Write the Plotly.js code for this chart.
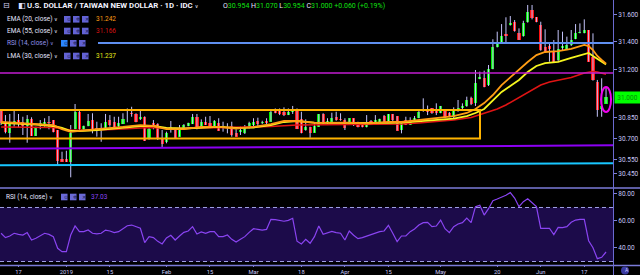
<!DOCTYPE html>
<html><head><meta charset="utf-8">
<script src="https://cdn.plot.ly/plotly-3.0.1.min.js"></script>
<style>html,body{margin:0;padding:0;background:#000;overflow:hidden}#chart{width:640px;height:275px}</style>
</head><body><div id="chart"></div>
<script>
// ---------- DATA (daily USD/TWD, IDC) ----------
const startDate = '2018-12-11'; // first weekday shown; one bar per weekday
const open = [
30.903,30.823,30.739,30.816,30.835,30.819,30.792,30.840,30.722,30.801,
30.794,30.823,30.835,30.763,30.551,30.551,30.534,30.768,30.895,30.768,
30.792,30.835,30.775,30.770,30.775,30.835,30.823,30.792,30.806,30.868,
30.881,30.879,30.840,30.859,30.696,30.812,30.804,30.698,30.674,30.773,
30.775,30.715,30.775,30.792,30.806,30.859,30.775,30.823,30.816,30.792,
30.812,30.785,30.785,30.792,30.744,30.751,30.744,30.775,30.799,30.828,
30.812,30.828,30.823,30.913,30.903,30.895,30.871,30.893,30.908,30.840,
30.763,30.787,30.744,30.787,30.879,30.821,30.823,30.859,30.845,30.835,
30.799,30.848,30.816,30.812,30.787,30.830,30.816,30.821,30.864,30.821,
30.879,30.864,30.763,30.835,30.799,30.823,30.848,30.900,30.900,30.919,
30.913,30.884,30.908,30.888,30.855,30.903,30.919,30.937,30.997,30.956,
31.130,31.137,31.088,31.202,31.365,31.394,31.455,31.522,31.546,31.467,
31.443,31.546,31.631,31.578,31.522,31.365,31.370,31.329,31.269,31.358,
31.346,31.378,31.419,31.462,31.467,31.486,31.293,31.113,30.915,30.954];
const high = [
30.913,30.871,30.879,30.903,30.879,30.859,30.871,30.855,30.787,30.835,
30.848,30.864,30.835,30.763,30.606,30.613,30.799,30.951,30.908,30.795,
30.879,30.884,30.823,30.812,30.879,30.871,30.859,30.859,30.884,30.919,
30.931,30.884,30.913,30.862,30.780,30.835,30.812,30.763,30.751,30.828,
30.775,30.799,30.806,30.816,30.879,30.879,30.840,30.859,30.864,30.835,
30.848,30.823,30.812,30.823,30.768,30.787,30.799,30.823,30.848,30.852,
30.830,30.848,30.913,30.919,30.919,30.927,30.919,30.937,30.919,30.895,
30.840,30.787,30.812,30.879,30.884,30.848,30.888,30.895,30.884,30.848,
30.848,30.848,30.823,30.812,30.871,30.835,30.871,30.845,30.871,30.879,
30.879,30.864,30.823,30.859,30.855,30.864,30.900,30.992,30.940,30.922,
30.956,30.937,30.908,30.893,30.927,30.980,30.956,31.004,31.004,31.197,
31.185,31.192,31.233,31.419,31.474,31.529,31.578,31.587,31.558,31.498,
31.553,31.667,31.667,31.580,31.546,31.491,31.390,31.414,31.486,31.474,
31.438,31.486,31.529,31.534,31.563,31.486,31.462,31.125,31.137,31.070];
const low = [
30.799,30.739,30.671,30.787,30.782,30.727,30.671,30.720,30.720,30.768,
30.787,30.768,30.746,30.503,30.534,30.532,30.421,30.768,30.763,30.765,
30.790,30.739,30.715,30.678,30.775,30.787,30.763,30.770,30.806,30.819,
30.859,30.819,30.835,30.684,30.693,30.768,30.691,30.635,30.667,30.744,
30.700,30.715,30.775,30.790,30.806,30.768,30.775,30.799,30.790,30.787,
30.758,30.751,30.739,30.715,30.715,30.727,30.734,30.775,30.792,30.792,
30.806,30.804,30.823,30.884,30.871,30.864,30.871,30.879,30.770,30.739,
30.758,30.707,30.744,30.787,30.799,30.799,30.823,30.830,30.830,30.763,
30.799,30.792,30.782,30.782,30.782,30.806,30.806,30.819,30.816,30.821,
30.823,30.758,30.739,30.799,30.799,30.823,30.848,30.895,30.871,30.880,
30.871,30.884,30.848,30.855,30.848,30.895,30.912,30.931,30.943,30.937,
31.130,31.072,31.081,31.202,31.360,31.390,31.390,31.518,31.474,31.414,
31.438,31.539,31.563,31.542,31.336,31.329,31.257,31.250,31.257,31.341,
31.341,31.370,31.419,31.462,31.462,31.257,31.120,30.859,30.859,30.954];
const close = [
30.812,30.751,30.812,30.828,30.806,30.794,30.840,30.722,30.782,30.812,
30.819,30.812,30.749,30.541,30.534,30.534,30.739,30.895,30.768,30.792,
30.828,30.768,30.763,30.772,30.823,30.799,30.780,30.816,30.843,30.873,
30.877,30.823,30.859,30.686,30.770,30.801,30.696,30.662,30.744,30.782,
30.707,30.763,30.799,30.812,30.859,30.775,30.823,30.799,30.792,30.830,
30.758,30.792,30.775,30.727,30.715,30.763,30.775,30.812,30.823,30.804,
30.823,30.812,30.895,30.888,30.879,30.871,30.895,30.903,30.770,30.744,
30.787,30.739,30.792,30.879,30.812,30.830,30.848,30.835,30.835,30.775,
30.848,30.799,30.787,30.787,30.816,30.812,30.835,30.840,30.816,30.879,
30.835,30.758,30.816,30.799,30.830,30.848,30.895,30.903,30.895,30.884,
30.884,30.937,30.859,30.859,30.908,30.919,30.937,30.980,30.949,31.101,
31.144,31.072,31.202,31.365,31.390,31.443,31.443,31.534,31.481,31.414,
31.534,31.618,31.570,31.546,31.341,31.329,31.346,31.257,31.346,31.370,
31.378,31.414,31.462,31.474,31.486,31.257,31.125,30.910,30.937,31.000];
const rsi = [
50.9,47.7,48.9,50.9,50.1,49.6,51.4,45.9,47.2,48.9,
50.9,50.1,48.4,39.8,37.3,37.3,49.6,56.3,52.1,52.1,
53.3,50.9,50.4,50.9,53.3,52.6,51.4,52.1,54.1,56.5,
57.0,55.8,54.6,44.0,48.4,47.7,44.9,43.0,47.4,49.4,
45.9,48.9,51.6,52.6,55.8,50.4,51.9,50.9,52.1,52.1,
48.4,48.4,49.6,46.4,44.4,46.4,48.4,51.6,54.3,53.8,
53.3,53.8,61.2,61.0,60.5,59.8,60.5,62.0,45.0,43.0,
46.4,43.5,48.4,56.3,50.1,51.1,52.3,51.4,50.9,45.9,
52.6,49.4,46.9,47.7,48.9,49.9,51.4,52.1,52.6,56.8,
50.9,44.7,48.9,48.9,52.1,54.1,57.0,58.8,59.0,55.8,
56.3,60.7,54.3,51.4,55.8,57.8,58.8,62.2,58.8,70.6,
71.6,64.4,69.1,75.1,76.3,77.5,79.0,81.0,77.0,70.6,
74.3,76.5,73.6,70.6,54.6,54.6,54.6,49.9,55.3,55.1,
55.8,59.0,60.7,61.2,61.2,45.4,40.2,32.1,33.1,37.03];
// indicator lines (bar number -> value)
const ema20At = [0,8,12,14,16,18,22,28,32,35,38,42,46,50,54,58,62,65,68,72,76,80,84,89,92,96,100,104,107,109,111,113,115,117,119,121,123,125,128,131,134,135,136,137,138,139];
const ema20 = [30.821,30.806,30.799,30.770,30.749,30.756,30.770,30.785,30.799,30.792,30.770,30.770,30.785,30.785,30.774,30.785,30.806,30.828,30.828,30.814,30.817,30.817,30.810,30.821,30.821,30.835,30.850,30.864,30.886,30.915,30.958,31.016,31.088,31.146,31.197,31.255,31.305,31.327,31.334,31.349,31.378,31.370,31.341,31.298,31.269,31.242];
const lmaAt = ema20At;
const lma = [30.814,30.803,30.792,30.778,30.756,30.756,30.763,30.778,30.792,30.792,30.778,30.774,30.781,30.785,30.778,30.781,30.799,30.821,30.828,30.817,30.814,30.814,30.810,30.814,30.817,30.828,30.835,30.846,30.864,30.886,30.915,30.973,31.038,31.081,31.125,31.182,31.226,31.247,31.255,31.284,31.313,31.320,31.298,31.276,31.255,31.237];
const ema55At = [0,12,16,20,28,34,40,46,54,62,68,76,84,92,96,100,104,108,110,112,114,116,118,120,122,124,126,128,131,134,136,137,139];
const ema55 = [30.785,30.781,30.763,30.759,30.770,30.781,30.774,30.778,30.778,30.788,30.799,30.803,30.806,30.806,30.814,30.824,30.835,30.853,30.875,30.893,30.915,30.944,30.980,31.016,31.052,31.088,31.110,31.125,31.143,31.175,31.186,31.182,31.166];
// axis labels
const tickDates = ['2018-12-17','2019-01-01','2019-01-15','2019-02-01','2019-02-15','2019-03-01','2019-03-18','2019-04-01','2019-04-15','2019-05-01','2019-05-20','2019-06-03','2019-06-17'];
const tickLabels = ['17','2019','15','Feb','15','Mar','18','Apr','15','May','20','Jun','17'];
const priceTicks = [31.6,31.4,31.2,30.85,30.7,30.55,30.45];
const priceTickText = ['31.600','31.400','31.200','30.850','30.700','30.550','30.450'];
const rsiTicks = [80,60,40];
const rsiTickText = ['80.00','60.00','40.00'];
// drawn levels
const blueLevel = 31.392, magentaLevel = 31.175;
const purpleLine = [30.628, 30.652], cyanLine = [30.508, 30.522];
const boxTop = 30.908, boxBottom = 30.701;
const rsiUpper = 70, rsiLower = 30;

// ---------- BUILD ----------
const dates = [];
{ const d = new Date(startDate + 'T00:00:00Z');
  while (dates.length < close.length) {
    const wd = d.getUTCDay();
    if (wd !== 0 && wd !== 6) dates.push(d.toISOString().slice(0, 10));
    d.setUTCDate(d.getUTCDate() + 1);
  } }
const xs = dates.map((_, k) => k);
const tickvals = tickDates.map(t => dates.indexOf(t));
const last = close.length - 1;

const wx = [], wy = [];
xs.forEach(k => { wx.push(k, k, null); wy.push(low[k], high[k], null); });
const bodyBase = open.map((o, k) => Math.min(o, close[k]));
const bodyH = open.map((o, k) => Math.max(Math.abs(close[k] - o), 0.007));
const bodyCol = open.map((o, k) => close[k] >= o ? '#00f000' : '#ff1010');

const FONT = 'Roboto, "Liberation Sans", sans-serif';
const W = 613, H = 265;
const px = X => X / W, py = Y => (H - Y) / H;

const traces = [
  {type:'scatter', mode:'lines', x:wx, y:wy, line:{color:'#c4c4fa', width:1}, hoverinfo:'skip'},
  {type:'bar', x:xs, y:bodyH, base:bodyBase, width:0.72, marker:{color:bodyCol, line:{width:0}}, hoverinfo:'skip'},
  {type:'scatter', mode:'lines', x:ema55At, y:ema55, line:{color:'#e01414', width:1.6}},
  {type:'scatter', mode:'lines', x:lmaAt, y:lma, line:{color:'#f6f61e', width:1.8}},
  {type:'scatter', mode:'lines', x:ema20At, y:ema20, line:{color:'#ff9d14', width:1.8}},
  {type:'scatter', mode:'lines', x:xs, y:rsi, yaxis:'y2', line:{color:'#8a44f2', width:1.2}}
];

const lav = '#7b7bd9';
const shapes = [
  {type:'rect', xref:'paper', x0:0, x1:1, yref:'y2', y0:rsiLower, y1:rsiUpper, fillcolor:'#1c0b4a', line:{width:0}, layer:'below'},
  {type:'line', xref:'paper', x0:0, x1:1, yref:'y2', y0:rsiUpper, y1:rsiUpper, line:{color:'#a0a0e6', width:1, dash:'4px,3px'}},
  {type:'line', xref:'paper', x0:0, x1:1, yref:'y2', y0:rsiLower, y1:rsiLower, line:{color:'#a0a0e6', width:1, dash:'4px,3px'}},
  // drawings on price pane
  {type:'rect', xref:'paper', x0:-0.02, x1:px(480), yref:'y', y0:boxBottom, y1:boxTop, line:{color:'#ffb300', width:2}, layer:'above'},
  {type:'line', xref:'paper', x0:px(98), x1:1, yref:'y', y0:blueLevel, y1:blueLevel, line:{color:'#5f8ff0', width:2}},
  {type:'line', xref:'paper', x0:0, x1:1, yref:'y', y0:magentaLevel, y1:magentaLevel, line:{color:'#c21cd0', width:1.5}},
  {type:'line', xref:'paper', x0:0, x1:1, yref:'y', y0:purpleLine[0], y1:purpleLine[1], line:{color:'#8c00f4', width:2}},
  {type:'line', xref:'paper', x0:0, x1:1, yref:'y', y0:cyanLine[0], y1:cyanLine[1], line:{color:'#18c6ff', width:2}},
  {type:'circle', xref:'x', yref:'y', x0:last-1.15, x1:last+1.15, y0:30.893, y1:31.074, line:{color:'#f000f0', width:2}},
  // pane frames
  {type:'line', xref:'paper', x0:0, x1:640/W, yref:'paper', y0:py(188), y1:py(188), line:{color:lav, width:1.5}},
  {type:'line', xref:'paper', x0:0, x1:640/W, yref:'paper', y0:py(265.5), y1:py(265.5), line:{color:lav, width:1.5}},
  {type:'line', xref:'paper', x0:px(613.5), x1:px(613.5), yref:'paper', y0:py(276), y1:1, line:{color:'#6a6ad0', width:1}},
  {type:'circle', xref:'paper', x0:px(621), x1:px(629), yref:'paper', y0:py(274.5), y1:py(266.5), fillcolor:'#3a3aa0', line:{width:0}}
];
// legend buttons
function btn(X, Y, col) {
  shapes.push({type:'rect', xref:'paper', yref:'paper', x0:px(X), x1:px(X+6.5), y0:py(Y+3.3), y1:py(Y-3.3), fillcolor:col, line:{width:0}});
}
const rowsY = [19.3, 31, 43.3, 56];
rowsY.forEach((Y, r) => {
  const bx = r === 2 ? [61, 70, 79] : [64, 73, 82];
  bx.forEach((X, j) => btn(X, Y, (r === 2 && j === 0) ? '#2a86ff' : '#6262d4'));
});
[61, 70, 79].forEach(X => btn(X, 197, '#6a6ad8'));

const annotations = [];
function ann(X, Y, text, size, color, extra) {
  annotations.push(Object.assign({xref:'paper', yref:'paper', x:px(X), y:py(Y), xanchor:'left', yanchor:'middle',
    showarrow:false, text:text, font:{family:FONT, size:size, color:color}}, extra || {}));
}
const chev = '<span style="font-family:DejaVu Sans;font-size:5px">∨</span>';
ann(1, 6, '⊟', 8, '#d0d0f0', {font:{family:'DejaVu Sans', size:8, color:'#d0d0f0'}});
ann(16, 6, '◧', 8, '#e0e0ff', {font:{family:'DejaVu Sans', size:8, color:'#e0e0ff'}});
ann(25, 6, '<b>U.S. DOLLAR / TAIWAN NEW DOLLAR · 1D · IDC</b> ' + chev, 7.8, '#f2f2ff');
const g = s => '<span style="color:#10e010">' + s + '</span>';
ann(221, 6, 'O' + g(open[last].toFixed(3)) + ' H' + g(high[last].toFixed(3)) + ' L' + g(low[last].toFixed(3)) + ' C' + g(close[last].toFixed(3)) + ' ' + g('+0.060 (+0.19%)'), 7, '#e6e6ff');
ann(5, 19.3, 'EMA (20, close) ' + chev, 6.5, '#e6e6ff');
ann(5, 31, 'EMA (55, close) ' + chev, 6.5, '#e6e6ff');
ann(5, 43.3, 'RSI (14, close) ' + chev, 6.5, '#9292e8');
ann(5, 56, 'LMA (30, close) ' + chev, 6.5, '#e6e6ff');
ann(94, 19.3, ema20[ema20.length-1].toFixed(3), 6.5, '#ff9d14');
ann(94, 31, ema55[ema55.length-1].toFixed(3), 6.5, '#d81212');
ann(94, 56, lma[lma.length-1].toFixed(3), 6.5, '#e8e81a');
ann(4, 197, 'RSI (14, close) ' + chev, 6.5, '#e6e6ff');
ann(89, 197, rsi[last].toFixed(2), 6.5, '#8a44f2');
// button glyphs
const glyphs = ['⊙', '✲', '✕'];
rowsY.concat([197]).forEach((Y, r) => {
  const bx = (r === 2 || r === 4) ? [61, 70, 79] : [64, 73, 82];
  bx.forEach((X, j) => ann(X + 0.6, Y, glyphs[j], 5, '#14144a', {font:{family:'DejaVu Sans', size:5, color:'#14144a'}}));
});
// current price tag
annotations.push({xref:'paper', yref:'y', x:px(614), y:close[last], xanchor:'left', yanchor:'middle', showarrow:false,
  text:close[last].toFixed(3), bgcolor:'#00ff00', borderpad:1.5, width:22,
  font:{family:FONT, size:6.5, color:'#0a8a0a'}});
ann(622.6, 270.3, 'A', 5, '#d0d0ff');

const axisFont = {family:FONT, size:6.5, color:'#c8c8f5'};
const layout = {
  width:640, height:275, margin:{l:0, r:27, t:0, b:10, pad:0},
  paper_bgcolor:'#000', plot_bgcolor:'#000', showlegend:false, hovermode:false,
  font:{family:FONT, size:6.5, color:'#c8c8f5'},
  xaxis:{range:[-0.25, 140.6], anchor:'y2', tickmode:'array', tickvals:tickvals, ticktext:tickLabels,
    ticks:'outside', ticklen:1, tickcolor:'#8080d8', tickfont:{family:FONT, size:5.8, color:'#c8c8f5'},
    showgrid:false, zeroline:false, showline:false, fixedrange:true},
  yaxis:{domain:[1 - 187 / H, 1], range:[30.351, 31.703], side:'right', tickmode:'array', tickvals:priceTicks, ticktext:priceTickText,
    ticks:'outside', ticklen:3, tickcolor:'#8080d8', tickfont:axisFont, showgrid:false, zeroline:false, showline:false},
  yaxis2:{domain:[0, (H - 189) / H], range:[27.4, 83.7], side:'right', tickmode:'array', tickvals:rsiTicks, ticktext:rsiTickText,
    ticks:'outside', ticklen:3, tickcolor:'#8080d8', tickfont:axisFont, showgrid:false, zeroline:false, showline:false},
  bargap:0, shapes:shapes, annotations:annotations
};
Plotly.newPlot('chart', traces, layout, {staticPlot:true, displayModeBar:false});
</script></body></html>
